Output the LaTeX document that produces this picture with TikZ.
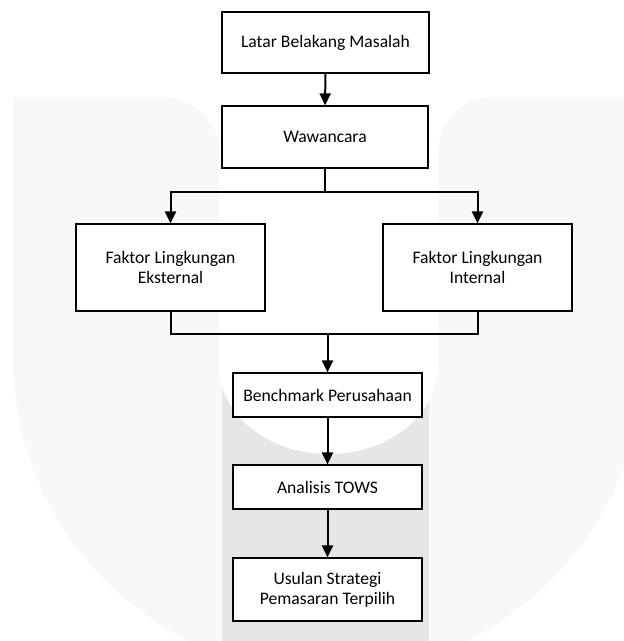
\documentclass[tikz,border=0pt]{standalone}
\usepackage{fontspec}
\setmainfont{Carlito}
\usetikzlibrary{arrows.meta}
\definecolor{wmlight}{RGB}{248,248,248}
\definecolor{wmdark}{RGB}{230,230,232}
\tikzset{
  box/.style={draw=black, fill=white, line width=1.2pt, inner sep=0pt, align=center,
    font=\fontsize{17.6}{20}\selectfont, text=black},
  link/.style={draw=black, line width=2pt, line join=miter},
  arr/.style={link, -{Triangle[width=11pt,length=12pt]}}
}
\begin{document}
\begin{tikzpicture}[x=1pt,y=1pt]
\useasboundingbox (0,0) rectangle (624,-641);
% watermark
\begin{scope}
\clip (0,0) rectangle (624,-641);
\fill[wmlight] (13,-97) -- (164,-97) arc[start angle=90, end angle=0, radius=55]
  -- (219,-366) arc[start angle=180, end angle=360, x radius=109.5, y radius=88]
  -- (438,-152) arc[start angle=180, end angle=90, radius=55]
  -- (643,-97) -- (643,-358) arc[start angle=0, end angle=-180, radius=315] -- cycle;
\fill[wmdark] (222,-366) rectangle (429,-641);
\fill[white] (328.5,-366) ellipse[x radius=109.5, y radius=88];
\end{scope}
% boxes
\node[box, minimum width=207pt, minimum height=61pt] (b1) at (325.5,-42.5) {Latar Belakang Masalah};
\node[box, minimum width=206pt, minimum height=62pt] (b2) at (325,-137) {Wawancara};
\node[box, minimum width=189pt, minimum height=87pt] (bL) at (170.5,-267.5) {Faktor Lingkungan\\Eksternal};
\node[box, minimum width=189pt, minimum height=87pt] (bR) at (477.5,-267.5) {Faktor Lingkungan\\Internal};
\node[box, minimum width=189pt, minimum height=44pt] (b3) at (327.5,-395) {Benchmark Perusahaan};
\node[box, minimum width=189pt, minimum height=44pt] (b4) at (327.5,-487) {Analisis TOWS};
\node[box, minimum width=189pt, minimum height=63pt] (b5) at (327.5,-589.5) {Usulan Strategi\\Pemasaran Terpilih};
% connectors
\coordinate (j1) at (325,-192);
\coordinate (j2) at (327.5,-334);
\draw[arr] (b1.south) -- (b2.north);
\draw[link] (b2.south) -- (j1);
\draw[arr] (j1) -| (bL.north);
\draw[arr] (j1) -| (bR.north);
\draw[link] (bL.south) |- (j2) -| (bR.south);
\draw[arr] (j2) -- (b3.north);
\draw[arr] (b3.south) -- (b4.north);
\draw[arr] (b4.south) -- (b5.north);
\end{tikzpicture}
\end{document}
